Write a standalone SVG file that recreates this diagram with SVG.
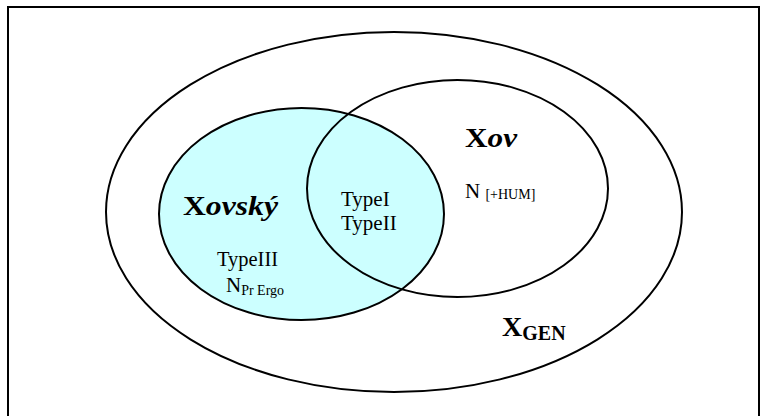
<svg xmlns="http://www.w3.org/2000/svg" width="766" height="416" viewBox="0 0 766 416">
<style>
.line{fill:none;stroke:#000;stroke-width:2}
.t{font-family:"Liberation Serif","Times New Roman",serif;fill:#000}
.big{font-weight:bold;font-size:28px}
.it{font-style:italic}
.n{font-size:21px}
.sub{font-size:14px}
</style>
<rect id="frame" x="8" y="7" width="751" height="425" class="line"/>
<g id="xgen">
<ellipse cx="394" cy="212" rx="288" ry="180" class="line"/>
<text class="t big" x="502" y="336">X<tspan font-size="20px" dy="4">GEN</tspan></text>
</g>
<g id="xovsky">
<ellipse cx="301.5" cy="214" rx="142.5" ry="106" fill="#CCFFFF" stroke="#000" stroke-width="2"/>
<text class="t big" x="183" y="215" textLength="95" lengthAdjust="spacingAndGlyphs">X<tspan class="it">ovský</tspan></text>
<text class="t n" x="217" y="266" textLength="61" lengthAdjust="spacingAndGlyphs">TypeIII</text>
<text class="t n" x="226" y="292">N<tspan class="sub" dy="3">Pr Ergo</tspan></text>
</g>
<g id="xov">
<ellipse cx="457.5" cy="188.5" rx="150.5" ry="108.5" class="line"/>
<text class="t big" x="465" y="147" textLength="52" lengthAdjust="spacingAndGlyphs">X<tspan class="it">ov</tspan></text>
<text class="t n" x="465" y="198">N <tspan class="sub" dy="1">[+HUM]</tspan></text>
</g>
<g id="intersection">
<text class="t n" x="341" y="206">TypeI</text>
<text class="t n" x="341" y="230">TypeII</text>
</g>
<g id="connectors"/>
</svg>
